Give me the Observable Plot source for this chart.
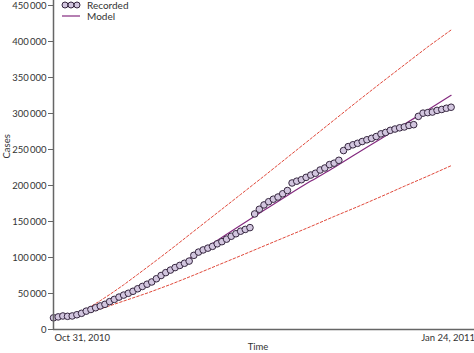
<!DOCTYPE html>
<html><head><meta charset="utf-8">
<script src="https://cdn.jsdelivr.net/npm/d3@7"></script>
<script src="https://cdn.jsdelivr.net/npm/@observablehq/plot@0.6"></script>
<style>
body{margin:0;background:#fff;}
#wrap{position:relative;width:474px;height:353px;font-family:Lato,"Open Sans",sans-serif;}
#legend{position:absolute;left:0;top:0;}
</style></head><body><div id="wrap"></div>
<script>
// Daily recorded cumulative cases, Oct 31, 2010 .. Jan 24, 2011
const startDate = "2010-10-31";
const recorded = [16200,17500,18800,18300,18800,20500,22500,25500,27800,30200,
 32700,35000,38700,41800,45000,47800,50300,53100,56600,59800,
 62900,66000,70500,75000,79000,82500,86000,89000,92000,95000,
 103000,107500,110500,113000,115500,119000,122000,125500,129500,133000,
 136500,139000,141500,160500,167000,173000,177500,181000,184000,188500,
 193000,203500,206000,208000,211300,214500,217000,221500,224300,229000,
 231000,235000,248500,254000,256500,258600,261100,263500,265500,268000,
 271700,273700,276600,278400,280100,281300,283400,284500,296000,300500,
 301200,302000,304300,305600,307300,308700];
// Model curve (day offset from start, cases)
const modelDays = [0,4,7,10,15,20,25,30,35,40,45,50,55,60,65,70,75,80,85];
const modelValues = [16000,18300,23700,31400,46300,63500,82400,102500,123600,144700,165500,186100,206100,225000,245100,265000,285000,305000,325300];
// Upper and lower envelope (dashed)
const upperDays = [4,6,8,10,12,15,18,22,26,30,35,40,45,50,55,60,65,70,75,80,85];
const upperValues = [18500,24500,32000,40000,48500,62000,76500,96000,116000,136500,162000,187500,213000,239000,265000,291000,317000,342500,367500,392500,416000];
const lowerDays = [4,6,10,15,20,25,30,35,40,45,50,55,60,65,70,75,80,85];
const lowerValues = [18500,21500,28500,39500,50500,62500,75500,89000,102400,116000,129500,143000,157000,170500,184500,199000,213000,227500];
const yTicks = [0,50000,100000,150000,200000,250000,300000,350000,400000,450000];
const xTickDates = ["2010-10-31","2011-01-24"];
const xTickLabels = ["Oct 31, 2010","Jan 24, 2011"];
const legendLabels = ["Recorded","Model"];

const t0 = new Date(startDate + "T00:00:00Z");
const dayToDate = d => new Date(t0.getTime() + d * 864e5);
const rec = recorded.map((v, i) => ({date: dayToDate(i), value: v}));
const model = modelDays.map((d, i) => ({date: dayToDate(d), value: modelValues[i]}));
const upper = upperDays.map((d, i) => ({date: dayToDate(d), value: upperValues[i]}));
const lower = lowerDays.map((d, i) => ({date: dayToDate(d), value: lowerValues[i]}));
const xt = xTickDates.map((d, i) => ({date: new Date(d + "T00:00:00Z"), label: xTickLabels[i]}));

const fmt = v => v === 0 ? "0" : d3.format(",")(v).replace(/,/g, "\u2009");
const axisColor = "#666";
const dashColor = "#e0493b";
const modelColor = "#842a7f";

const chart = Plot.plot({
  width: 474, height: 353,
  marginLeft: 53, marginRight: 0, marginTop: 5, marginBottom: 24,
  style: {fontFamily: "Lato, 'Open Sans', sans-serif", fontSize: "9px", color: "#333", background: "white"},
  x: {type: "utc", domain: [t0, dayToDate(90)], axis: null},
  y: {domain: [0, 450000], axis: null},
  marks: [
    Plot.line(upper, {x: "date", y: "value", stroke: dashColor, strokeWidth: 1, strokeDasharray: "2.5,2"}),
    Plot.line(lower, {x: "date", y: "value", stroke: dashColor, strokeWidth: 1, strokeDasharray: "2.5,2"}),
    Plot.line(model, {x: "date", y: "value", stroke: modelColor, strokeWidth: 1.2, curve: "monotone-x"}),
    Plot.dot(rec, {x: "date", y: "value", r: 3.3, fill: "#d2c6df", stroke: "#35263f", strokeWidth: 1}),
    Plot.axisY({ticks: yTicks, tickSize: 5, tickPadding: 2, tickFormat: fmt, label: null, stroke: axisColor, fill: "#333", fontSize: 9.5}),
    Plot.ruleX([t0], {y1: 0, y2: 457000, stroke: axisColor, strokeWidth: 1.5}),
    Plot.ruleY([0], {stroke: axisColor, strokeWidth: 1.5}),
    Plot.text(xt.slice(0, 1), {x: "date", text: "label", frameAnchor: "bottom", dy: 11, textAnchor: "start", dx: 1, fill: "#333", fontSize: 9.5}),
    Plot.text(xt.slice(1), {x: "date", text: "label", frameAnchor: "bottom", dy: 11, dx: -3, fill: "#333", fontSize: 9.5}),
    Plot.text(["Time"], {text: d => d, frameAnchor: "bottom", dy: 20, dx: -6, fill: "#333", fontSize: 9.5}),
    Plot.text(["Cases"], {text: d => d, frameAnchor: "left", rotate: -90, dx: -47, dy: -9, fill: "#333", fontSize: 9.5})
  ]
});
const wrap = document.getElementById("wrap");
wrap.appendChild(chart);

// Legend overlay (inside the plot area, top-left)
const ns = "http://www.w3.org/2000/svg";
const leg = document.createElementNS(ns, "svg");
leg.setAttribute("id", "legend");
leg.setAttribute("width", 160); leg.setAttribute("height", 24);
leg.setAttribute("font-family", "Lato, 'Open Sans', sans-serif");
leg.setAttribute("font-size", "10px");
[65, 71, 77].forEach(cx => {
  const c = document.createElementNS(ns, "circle");
  c.setAttribute("cx", cx); c.setAttribute("cy", 5); c.setAttribute("r", 3);
  c.setAttribute("fill", "#d2c6df"); c.setAttribute("stroke", "#35263f"); c.setAttribute("stroke-width", 1);
  leg.appendChild(c);
});
const ln = document.createElementNS(ns, "line");
ln.setAttribute("x1", 62); ln.setAttribute("x2", 80); ln.setAttribute("y1", 16); ln.setAttribute("y2", 16);
ln.setAttribute("stroke", modelColor); ln.setAttribute("stroke-width", 1.2);
leg.appendChild(ln);
legendLabels.forEach((lab, i) => {
  const t = document.createElementNS(ns, "text");
  t.setAttribute("x", 87); t.setAttribute("y", i === 0 ? 5.5 : 16.5);
  t.setAttribute("dy", "0.35em"); t.setAttribute("fill", "#333");
  t.textContent = lab;
  leg.appendChild(t);
});
wrap.appendChild(leg);
</script></body></html>
